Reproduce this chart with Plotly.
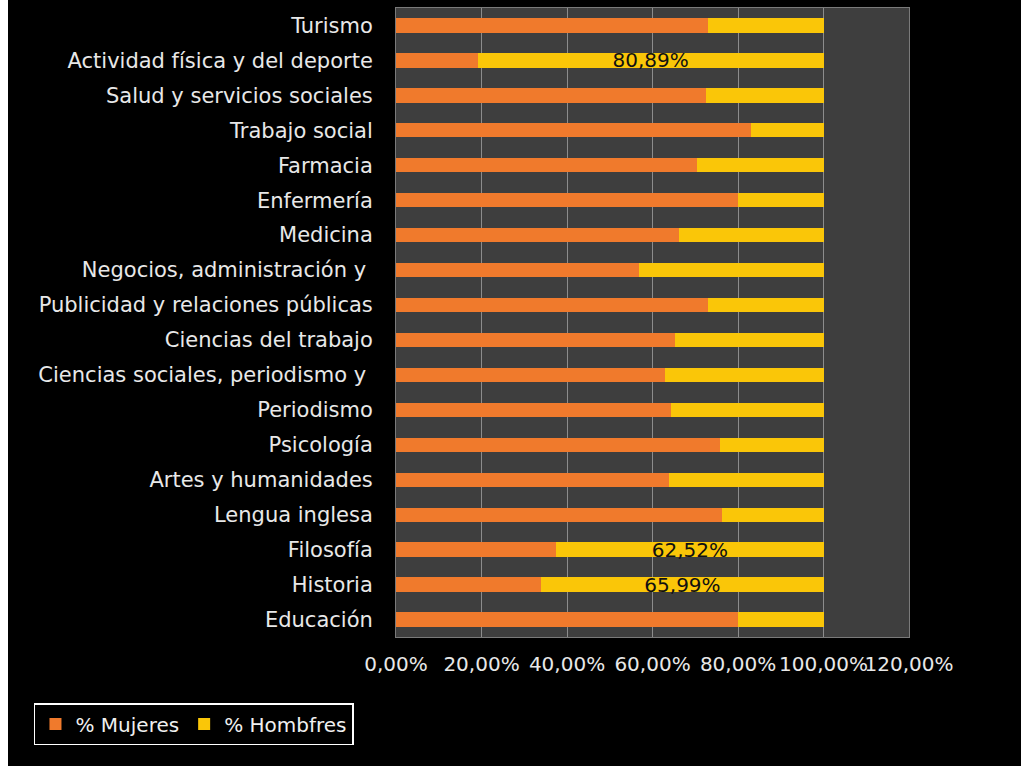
import plotly.graph_objects as go

categories = [
    "Turismo", "Actividad física y del deporte", "Salud y servicios sociales",
    "Trabajo social", "Farmacia", "Enfermería", "Medicina",
    "Negocios, administración y ", "Publicidad y relaciones públicas",
    "Ciencias del trabajo", "Ciencias sociales, periodismo y ", "Periodismo",
    "Psicología", "Artes y humanidades", "Lengua inglesa", "Filosofía",
    "Historia", "Educación",
]
mujeres = [0.729, 0.1911, 0.725, 0.831, 0.705, 0.801, 0.661, 0.568, 0.730,
           0.652, 0.630, 0.644, 0.759, 0.639, 0.762, 0.3748, 0.3401, 0.801]
hombres = [0.271, 0.8089, 0.275, 0.169, 0.295, 0.199, 0.339, 0.432, 0.270,
           0.348, 0.370, 0.356, 0.241, 0.361, 0.238, 0.6252, 0.6599, 0.199]
hombres_labels = ["", "80,89%", "", "", "", "", "", "", "", "", "", "", "",
                  "", "", "62,52%", "65,99%", ""]
tick_vals = [0, 0.2, 0.4, 0.6, 0.8, 1.0, 1.2]

FONT = "DejaVu Sans"

fig = go.Figure()
fig.add_trace(go.Bar(
    y=categories, x=mujeres, orientation="h", name="% Mujeres",
    marker=dict(color="#F07A2C", line=dict(width=0)),
))
fig.add_trace(go.Bar(
    y=categories, x=hombres, orientation="h", name="% Hombfres",
    marker=dict(color="#FAC608", line=dict(width=0)),
    text=hombres_labels, textposition="inside", insidetextanchor="middle",
    constraintext="none", textfont=dict(color="#111111", size=20, family=FONT),
    cliponaxis=False,
))

fig.update_layout(
    barmode="stack", bargap=0.59,
    width=1013, height=766,
    paper_bgcolor="#000000", plot_bgcolor="#3e3e3e",
    margin=dict(l=388, r=112, t=8, b=129),
    separators=",.",
    font=dict(family=FONT, size=21, color="#e8e8e8"),
    showlegend=True,
    legend=dict(
        orientation="h", x=-0.7057, y=-0.105, xanchor="left", yanchor="top",
        traceorder="normal",
        bgcolor="#000000", bordercolor="#ffffff", borderwidth=1.5,
        font=dict(size=20, color="#f0f0f0", family=FONT),
        itemwidth=30, tracegroupgap=0,
    ),
    xaxis=dict(
        range=[0, 1.2], tickvals=tick_vals, tickformat=".2%",
        tickangle=0,
        showgrid=True, gridcolor="#8c8c8c", gridwidth=1,
        showline=True, linecolor="#7a7a7a", mirror=True, linewidth=1,
        zeroline=False, ticks="", ticklabelstandoff=9,
        tickfont=dict(size=20, color="#e8e8e8"),
    ),
    yaxis=dict(
        autorange="reversed", showgrid=False,
        showline=True, linecolor="#7a7a7a", mirror=True, linewidth=1,
        ticks="", ticklabelstandoff=18,
        tickfont=dict(size=21, color="#e8e8e8"),
    ),
)

fig.write_html(
    "out.html",
    post_script="document.body.style.margin='0 0 0 8px';document.body.style.overflow='hidden';",
)
